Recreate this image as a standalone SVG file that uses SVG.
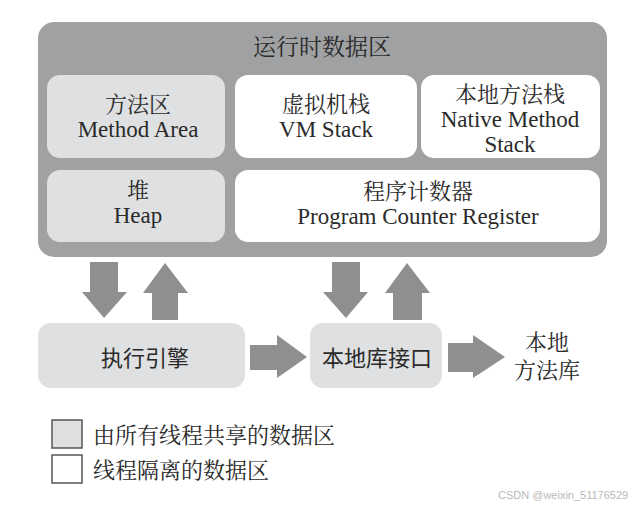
<svg xmlns="http://www.w3.org/2000/svg" width="638" height="506" viewBox="0 0 638 506">
<style>
.t{font-family:"Noto Serif CJK SC","Noto Sans CJK SC",serif;font-size:22px;fill:#2a2a2a;text-anchor:middle}
.e{font-family:"Liberation Serif","DejaVu Serif",serif;font-size:23px;fill:#2a2a2a;text-anchor:middle}
.s{font-family:"Noto Sans CJK SC","Noto Sans",sans-serif;font-size:22px;fill:#2a2a2a;text-anchor:middle}
.shared{fill:#dfe0e1}
.priv{fill:#ffffff}
.arr{fill:#8e8f91}
</style>
<rect width="638" height="506" fill="#ffffff"/>
<g id="runtime-data-area">
<rect x="38" y="22" width="569" height="235" rx="16" fill="#a0a1a3"/>
<text class="t" x="322" y="55" style="font-size:23px">运行时数据区</text>
</g>
<g id="method-area">
<rect class="shared" x="47" y="75" width="178" height="83" rx="13"/>
<text class="t" x="138" y="112">方法区</text>
<text class="e" x="138" y="137">Method Area</text>
</g>
<g id="vm-stack">
<rect class="priv" x="235" y="75" width="182" height="83" rx="13"/>
<text class="t" x="326" y="112">虚拟机栈</text>
<text class="e" x="326" y="137">VM Stack</text>
</g>
<g id="native-method-stack">
<rect class="priv" x="421" y="75" width="179" height="83" rx="13"/>
<text class="t" x="510" y="102">本地方法栈</text>
<text class="e" x="510" y="127">Native Method</text>
<text class="e" x="510" y="152">Stack</text>
</g>
<g id="heap">
<rect class="shared" x="47" y="170" width="178" height="72" rx="13"/>
<text class="t" x="138" y="198">堆</text>
<text class="e" x="138" y="223">Heap</text>
</g>
<g id="program-counter-register">
<rect class="priv" x="235" y="170" width="365" height="72" rx="13"/>
<text class="t" x="418" y="199">程序计数器</text>
<text class="e" x="418" y="224">Program Counter Register</text>
</g>
<g id="execution-engine">
<rect class="shared" x="38" y="323" width="207" height="65" rx="13"/>
<text class="s" x="145" y="366">执行引擎</text>
</g>
<g id="native-interface">
<rect class="shared" x="310" y="323" width="132" height="65" rx="13"/>
<text class="s" x="377" y="366">本地库接口</text>
</g>
<g id="native-library">
<text class="t" x="547" y="350">本地</text>
<text class="t" x="547" y="378">方法库</text>
</g>
<g id="connectors">
<polygon class="arr" points="90,262 118,262 118,292 127,292 104,318 82,292 90,292"/>
<polygon class="arr" points="152,320 178,320 178,293 188,293 165,263 143,293 152,293"/>
<polygon class="arr" points="332,262 360,262 360,292 368,292 346,318 323,292 332,292"/>
<polygon class="arr" points="393,320 422,320 422,293 430,293 407,263 385,293 393,293"/>
<polygon class="arr" points="250,345 277,345 277,335 307,357 277,378 277,370 250,370"/>
<polygon class="arr" points="448,343 473,343 473,335 505,357 473,378 473,372 448,372"/>
</g>
<g id="legend">
<rect x="52" y="420" width="30" height="28" fill="#dfe0e1" stroke="#555" stroke-width="1.5"/>
<rect x="52" y="455" width="30" height="28" fill="#ffffff" stroke="#555" stroke-width="1.5"/>
<text class="t" x="93" y="443" style="text-anchor:start">由所有线程共享的数据区</text>
<text class="t" x="93" y="478" style="text-anchor:start">线程隔离的数据区</text>
</g>
<text x="498" y="499" font-family="Liberation Sans, sans-serif" font-size="11" fill="#b8b8b8">CSDN @weixin_51176529</text>
</svg>
